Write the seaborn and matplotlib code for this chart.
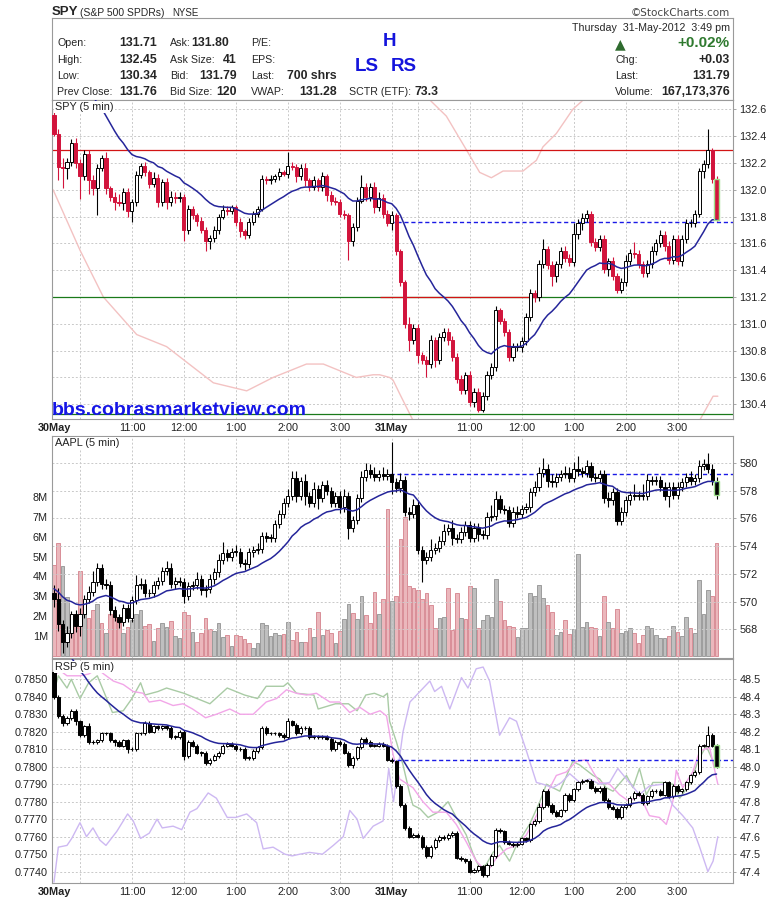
import numpy as np
import pandas as pd
import seaborn as sns
import matplotlib
matplotlib.use('Agg')
import matplotlib.pyplot as plt

# =============================================================================
# Data (5 min bars, 30May 9:30 -> 31May 3:45)
# =============================================================================
spy_open0 = 132.56
spy_ma_seed = 133.6   # level of the moving average coming in from 29May
spy_close = [
    132.42, 132.17, 132.16, 132.21, 132.35, 132.20,
    132.10, 132.27, 132.07, 132.01, 132.16, 132.24,
    132.01, 131.95, 131.91, 131.90, 131.98, 131.84,
    131.91, 132.11, 132.18, 132.13, 132.04, 132.09,
    131.91, 132.06, 131.91, 131.95, 131.94, 131.95,
    131.70, 131.86, 131.81, 131.77, 131.70, 131.62,
    131.64, 131.70, 131.80, 131.85, 131.84, 131.87,
    131.76, 131.69, 131.66, 131.76, 131.82, 131.86,
    132.08, 132.07, 132.08, 132.10, 132.13, 132.12,
    132.18, 132.17, 132.10, 132.16, 132.07, 132.02,
    132.07, 132.02, 132.10, 131.96, 131.92, 131.91,
    131.82, 131.81, 131.62, 131.72, 131.92, 132.02,
    131.95, 132.02, 131.87, 131.94, 131.82, 131.75,
    # 31May
    131.81, 131.54, 131.31, 131.00, 130.88, 130.97,
    130.77, 130.73, 130.70, 130.88, 130.73, 130.90,
    130.94, 130.88, 130.75, 130.59, 130.51, 130.62,
    130.42, 130.49, 130.36, 130.46, 130.62, 130.68,
    131.10, 131.02, 130.94, 130.75, 130.83, 130.83,
    130.87, 131.05, 131.23, 131.20, 131.45, 131.56,
    131.44, 131.36, 131.45, 131.54, 131.49, 131.46,
    131.67, 131.75, 131.79, 131.82, 131.61, 131.57,
    131.63, 131.41, 131.47, 131.36, 131.25, 131.31,
    131.47, 131.53, 131.52, 131.45, 131.38, 131.45,
    131.54, 131.60, 131.66, 131.58, 131.48, 131.63,
    131.47, 131.63, 131.75, 131.75, 131.82, 132.14,
    132.19, 132.30, 132.08, 131.78,
]
# wick lengths in cents above / below the body
spy_up = [
    4, 3, 7, 3, 3, 4,  3, 3, 3, 4, 3, 2,  4, 2, 3, 6, 3, 3,
    2, 3, 2, 3, 2, 4,  3, 2, 3, 4, 3, 3,  2, 3, 2, 2, 3, 2,
    2, 3, 2, 4, 3, 2,  2, 3, 2, 3, 2, 2,  3, 2, 3, 2, 3, 2,
    10, 3, 2, 3, 4, 2,  3, 2, 3, 2, 3, 3,  2, 3, 2, 3, 3, 9,
    3, 3, 4, 4, 3, 3,
    3, 2, 2, 2, 5, 3,  3, 2, 3, 4, 2, 3,  3, 3, 3, 3, 3, 2,
    3, 3, 3, 3, 3, 3,  3, 2, 2, 2, 3, 3,  3, 3, 3, 2, 3, 7,
    2, 3, 2, 3, 4, 3,  8, 3, 4, 3, 2, 3,  3, 3, 2, 3, 2, 3,
    4, 3, 8, 3, 2, 3,  4, 3, 4, 3, 4, 3,  3, 3, 3, 3, 3, 2,
    3, 15, 1, 2,
]
spy_dn = [
    2, 10, 15, 8, 3, 4,  17, 3, 10, 5, 20, 2,  4, 3, 6, 2, 5, 4,
    8, 3, 2, 3, 3, 2,  4, 3, 5, 3, 4, 3,  8, 3, 3, 4, 2, 8,
    6, 3, 3, 2, 3, 2,  3, 4, 3, 2, 2, 2,  2, 3, 3, 2, 3, 2,
    3, 2, 4, 3, 4, 3,  2, 3, 3, 4, 3, 2,  2, 3, 14, 4, 3, 2,
    3, 3, 4, 3, 3, 2,
    5, 3, 3, 3, 8, 3,  6, 3, 10, 3, 5, 3,  3, 4, 3, 3, 3, 3,
    3, 4, 2, 2, 3, 3,  3, 2, 3, 3, 3, 3,  4, 3, 3, 4, 3, 3,
    3, 8, 5, 3, 3, 3,  3, 4, 5, 3, 3, 3,  3, 3, 5, 3, 2, 2,
    3, 3, 3, 3, 3, 3,  3, 3, 3, 4, 3, 3,  3, 4, 3, 3, 3, 2,
    5, 3, 3, 1,
]
spy_band_hi_x = [84, 86.8, 90.6, 95.2, 98.3, 101, 103.7, 108.3, 111.4, 112.9, 116, 119.8, 122.2, 125]
spy_band_hi_y = [132.9, 132.67, 132.55, 132.3, 132.13, 132.09, 132.14, 132.14, 132.22, 132.32, 132.42, 132.6, 132.67, 132.9]
spy_band_lo_x = [-0.2, 6, 11.4, 19.1, 26, 36.8, 44.5, 50.6, 58.3, 62.2, 69.8, 73.7, 75.2, 77.5, 78.3,
                 79.8, 82.9, 90, 110, 135, 149.1, 152.2, 153.3]
spy_band_lo_y = [132.0, 131.55, 131.2, 130.92, 130.83, 130.56, 130.5, 130.6, 130.7, 130.7, 130.6, 130.62,
                 130.62, 130.6, 130.58, 130.48, 130.28, 129.95, 129.8, 129.95, 130.28, 130.46, 130.46]
spy_level_y = [132.30, 131.20, 130.33, 131.20]
spy_level_from = [-0.5, -0.5, -0.5, 75.3]
spy_level_to = [157, 157, 157, 112]
spy_level_col = ['#d21414', '#1a7a1a', '#1a7a1a', '#d21414']
spy_prev_close = 131.76
spy_ticks = [130.4, 130.6, 130.8, 131.0, 131.2, 131.4, 131.6, 131.8, 132.0, 132.2, 132.4, 132.6]

aapl_open0 = 570.6
aapl_ma_seed = 571.0
aapl_close = [
    570.2, 568.4, 567.1, 567.7, 569.1, 568.2,
    569.1, 570.2, 570.7, 571.4, 572.4, 571.3,
    571.2, 569.4, 568.9, 568.5, 569.5, 568.8,
    570.1, 571.2, 571.3, 570.6, 570.6, 571.2,
    571.5, 572.2, 572.4, 571.3, 571.5, 571.4,
    570.4, 571.1, 571.2, 571.6, 570.8, 570.9,
    571.6, 572.1, 573.0, 573.5, 573.2, 573.6,
    573.6, 572.8, 572.7, 573.6, 573.7, 573.8,
    574.7, 574.6, 574.6, 575.6, 576.3, 577.1,
    577.6, 578.9, 577.6, 578.7, 577.6, 577.1,
    578.1, 577.5, 578.4, 578.0, 577.1, 577.6,
    576.8, 577.6, 575.3, 575.9, 577.5, 579.0,
    579.5, 579.2, 579.0, 579.2, 579.1, 579.2,
    # 31May
    578.6, 578.2, 578.8, 576.5, 576.3, 577.0,
    573.7, 573.0, 573.2, 573.7, 573.9, 574.4,
    575.1, 575.3, 574.6, 574.5, 575.0, 575.5,
    574.6, 575.3, 574.9, 574.8, 576.1, 576.2,
    577.4, 576.7, 576.6, 575.7, 576.5, 576.3,
    576.7, 576.8, 577.9, 578.3, 579.3, 579.6,
    578.7, 578.6, 579.0, 579.2, 579.3, 578.9,
    579.6, 579.4, 579.3, 579.8, 579.0, 578.9,
    579.2, 577.5, 577.3, 577.9, 575.8, 576.5,
    577.3, 577.7, 577.6, 577.7, 577.6, 578.8,
    578.7, 578.8, 578.3, 577.6, 578.3, 577.7,
    578.3, 578.6, 579.0, 578.7, 578.9, 579.8,
    579.9, 579.6, 578.7, 577.7,
]
# wick lengths in dimes
aapl_up = [
    6, 8, 3, 5, 2, 3,  4, 3, 4, 8, 4, 3,  3, 3, 3, 2, 3, 3,
    3, 7, 4, 3, 3, 3,  3, 3, 5, 4, 3, 3,  3, 3, 3, 5, 3, 3,
    4, 3, 4, 8, 3, 3,  5, 3, 3, 3, 3, 4,  3, 3, 3, 3, 3, 4,
    5, 5, 5, 3, 5, 3,  5, 3, 3, 4, 3, 3,  4, 5, 3, 3, 3, 4,
    5, 4, 5, 3, 5, 4,
    23, 3, 5, 3, 3, 4,  3, 3, 4, 8, 3, 3,  5, 3, 6, 3, 4, 3,
    3, 4, 4, 3, 4, 8,  6, 3, 3, 3, 3, 4,  3, 3, 3, 4, 4, 8,
    3, 5, 3, 3, 5, 4,  5, 9, 3, 4, 3, 3,  3, 3, 4, 3, 3, 3,
    3, 3, 8, 3, 8, 4,  3, 3, 3, 3, 3, 3,  3, 3, 3, 4, 3, 4,
    4, 8, 3, 3,
]
aapl_dn = [
    6, 5, 8, 4, 3, 4,  7, 3, 3, 3, 3, 4,  3, 4, 3, 4, 3, 3,
    3, 3, 3, 3, 3, 3,  3, 3, 3, 3, 4, 3,  5, 3, 3, 3, 3, 5,
    3, 3, 3, 3, 3, 3,  3, 3, 4, 3, 4, 3,  3, 3, 3, 3, 3, 3,
    3, 3, 4, 3, 6, 3,  3, 8, 3, 3, 3, 3,  4, 3, 8, 3, 3, 3,
    3, 3, 3, 3, 3, 3,
    8, 3, 3, 3, 4, 3,  3, 16, 3, 3, 3, 3,  3, 3, 5, 3, 3, 3,
    3, 3, 5, 3, 3, 3,  3, 3, 3, 3, 3, 3,  3, 3, 3, 3, 3, 3,
    4, 3, 3, 3, 3, 3,  3, 3, 3, 3, 3, 3,  3, 4, 5, 3, 3, 3,
    3, 3, 3, 3, 3, 3,  3, 3, 3, 3, 8, 3,  3, 3, 3, 3, 3, 3,
    3, 3, 3, 3,
]
aapl_volume = [  # millions of shares
    4.6, 5.7, 4.55, 2.97, 2.13, 2.1,  4.27, 2.1, 1.9, 2.3, 2.6, 1.67,
    1.16, 2.1, 2.1, 1.67, 1.13, 1.47,  1.8, 2.1, 2.3, 1.5, 1.58, 0.77,
    1.42, 1.63, 1.47, 1.77, 1.0, 0.92,  2.2, 2.05, 1.18, 0.72, 1.13, 1.93,
    1.33, 1.23, 1.63, 0.97, 1.03, 0.52,  1.03, 1.0, 0.83, 0.67, 0.38, 0.67,
    1.63, 1.57, 1.0, 1.13, 1.05, 1.08,  1.72, 0.8, 1.22, 0.72, 0.72, 1.38,
    0.97, 2.2, 1.05, 1.3, 1.13, 0.67,  1.27, 1.88, 2.6, 2.17, 1.88, 3.0,
    2.08, 1.63, 3.22, 2.13, 2.88, 7.42,
    2.77, 3.0, 5.89, 7.02, 3.52, 3.43,  3.3, 2.89, 3.17, 2.55, 1.39, 1.89,
    1.94, 3.43, 1.30, 3.17, 1.89, 1.85,  3.5, 3.43, 1.39, 1.80, 2.05, 1.97,
    3.88, 2.77, 1.8, 1.5, 1.47, 0.97,  1.39, 1.39, 3.18, 3.0, 3.58, 2.9,
    2.58, 2.22, 1.05, 1.18, 1.8, 1.08,  1.33, 5.14, 1.47, 1.72, 1.47, 1.42,
    1.0, 3.0, 1.72, 1.39, 2.34, 1.13,  1.27, 1.42, 1.13, 0.67, 1.05, 1.5,
    1.42, 1.05, 0.88, 0.88, 1.0, 1.5,  1.22, 1.0, 1.97, 1.39, 1.13, 3.83,
    2.1, 3.33, 3.0, 5.67,
]
# r = down volume (pink), g = up volume (grey)
aapl_vol_dir = list(
    'rrggrr' 'rgrrgr' 'grrrgr' 'gggrrg' 'rggrgg' 'rrgrrr' 'rgggrg'
    'rrrrgg' 'gggggr' 'grrgrr' 'grgrrg' 'rggrgg' 'rrrgrr'
    'grrrrr' 'rrrrrg' 'grrrgr' 'rgrggg' 'grrrrg' 'gggggg' 'rrggrr'
    'ggggrr' 'grgrrg' 'ggrrrg' 'ggggrg' 'rggrgg' 'ggrr'
)
aapl_prev_close = 579.2
aapl_ticks = [568, 570, 572, 574, 576, 578, 580]
vol_ticks = [1, 2, 3, 4, 5, 6, 7, 8]

rsp_open0 = 48.54
rsp_ma_seed = 48.83
rsp_close = [
    48.40, 48.29, 48.25, 48.28, 48.32, 48.26,
    48.18, 48.23, 48.14, 48.14, 48.15, 48.19,
    48.19, 48.15, 48.14, 48.12, 48.15, 48.10,
    48.10, 48.19, 48.19, 48.25, 48.20, 48.23,
    48.22, 48.23, 48.22, 48.17, 48.17, 48.20,
    48.06, 48.14, 48.12, 48.08, 48.08, 48.02,
    48.04, 48.06, 48.08, 48.12, 48.13, 48.12,
    48.10, 48.10, 48.05, 48.05, 48.09, 48.11,
    48.22, 48.19, 48.19, 48.19, 48.18, 48.17,
    48.26, 48.24, 48.19, 48.22, 48.22, 48.17,
    48.17, 48.17, 48.17, 48.16, 48.10, 48.14,
    48.13, 48.08, 48.01, 48.05, 48.11, 48.16,
    48.14, 48.12, 48.12, 48.13, 48.12, 48.04,
    # 31May
    48.03, 47.89, 47.78, 47.65, 47.60, 47.61,
    47.60, 47.54, 47.49, 47.54, 47.58, 47.60,
    47.59, 47.61, 47.62, 47.48, 47.47, 47.46,
    47.40, 47.41, 47.43, 47.38, 47.44, 47.49,
    47.64, 47.63, 47.57, 47.56, 47.55, 47.56,
    47.59, 47.58, 47.67, 47.69, 47.77, 47.86,
    47.78, 47.74, 47.72, 47.75, 47.84, 47.81,
    47.87, 47.91, 47.92, 47.92, 47.88, 47.86,
    47.88, 47.81, 47.77, 47.76, 47.71, 47.77,
    47.78, 47.82, 47.85, 47.84, 47.79, 47.83,
    47.86, 47.86, 47.84, 47.91, 47.83, 47.89,
    47.86, 47.87, 47.91, 47.95, 47.97, 48.12,
    48.12, 48.18, 48.12, 48.00,
]
# wick lengths in cents
rsp_up = [
    2, 1, 1, 1, 1, 1,  1, 1, 2, 1, 1, 1,  1, 1, 1, 1, 1, 1,
    1, 1, 1, 1, 1, 1,  1, 1, 1, 1, 1, 1,  1, 1, 1, 1, 1, 1,
    1, 1, 1, 1, 1, 1,  1, 1, 1, 1, 1, 1,  1, 1, 1, 1, 1, 1,
    2, 1, 1, 1, 1, 1,  1, 1, 1, 1, 1, 1,  1, 1, 1, 1, 1, 1,
    1, 1, 1, 1, 1, 1,
    1, 1, 1, 1, 1, 1,  1, 1, 1, 1, 1, 1,  1, 1, 1, 1, 1, 1,
    1, 1, 1, 1, 1, 1,  1, 1, 1, 1, 1, 1,  1, 1, 1, 1, 2, 1,
    1, 1, 1, 1, 1, 1,  1, 1, 1, 1, 1, 1,  1, 1, 1, 1, 1, 1,
    1, 1, 1, 1, 1, 1,  1, 1, 1, 1, 1, 1,  1, 1, 1, 1, 1, 1,
    1, 5, 1, 1,
]
rsp_dn = [
    1, 1, 2, 1, 1, 2,  1, 1, 1, 1, 1, 1,  1, 1, 2, 1, 1, 2,
    1, 1, 1, 1, 1, 1,  1, 1, 1, 1, 1, 1,  2, 1, 1, 1, 2, 1,
    1, 1, 1, 1, 1, 1,  1, 1, 1, 1, 1, 1,  1, 1, 1, 1, 1, 1,
    1, 1, 1, 1, 1, 1,  1, 1, 1, 1, 1, 1,  1, 1, 1, 2, 1, 1,
    1, 1, 1, 1, 1, 1,
    1, 1, 1, 1, 1, 1,  1, 1, 1, 1, 1, 1,  1, 1, 1, 1, 1, 1,
    1, 1, 1, 1, 1, 1,  1, 1, 1, 1, 1, 1,  1, 1, 1, 1, 1, 1,
    1, 1, 1, 1, 1, 1,  1, 1, 1, 1, 1, 1,  1, 1, 1, 1, 1, 1,
    1, 1, 1, 1, 1, 1,  1, 1, 1, 1, 1, 1,  1, 1, 1, 1, 1, 1,
    1, 1, 1, 1,
]
rsp_green_x = [0, 1, 3, 4, 6, 8, 10, 13.5, 16, 18, 20, 21, 24, 26, 30, 34, 36, 40, 44, 47, 49, 53, 54,
               56, 60, 61, 65, 68, 70, 72, 74, 76, 77, 77.5, 79.1, 80.6, 82.2, 82.9, 84.5, 86.4, 88.7,
               91, 92.9, 95.2, 96.8, 98.3, 99.8, 101.4, 102.9, 105.2, 106.8, 109.8, 112.2, 113.7,
               115.2, 116.8, 119.8, 121.4, 124.5, 126, 127.5, 129.1, 132.2, 133.7, 135.2, 136.8,
               138.3, 140.6, 142.9, 144.5, 146.8, 148.7, 150.6, 152.2, 153.3]
rsp_green_y = [48.43, 48.52, 48.45, 48.50, 48.39, 48.48, 48.52, 48.31, 48.32, 48.39, 48.48, 48.41,
               48.43, 48.45, 48.42, 48.38, 48.36, 48.45, 48.41, 48.39, 48.46, 48.46, 48.48, 48.42,
               48.41, 48.33, 48.36, 48.36, 48.32, 48.41, 48.42, 48.40, 48.42, 48.26, 48.14, 48.01,
               47.84, 47.78, 47.76, 47.71, 47.74, 47.80, 47.71, 47.61, 47.50, 47.42, 47.44, 47.51,
               47.55, 47.46, 47.55, 47.67, 47.80, 47.90, 47.88, 47.86, 48.03, 48.01, 47.95, 47.93,
               47.88, 47.86, 47.95, 47.88, 47.99, 47.84, 47.91, 47.91, 47.90, 47.82, 47.90, 48.03,
               48.12, 48.03, 48.02]
rsp_pink_x = [0, 1.4, 3, 6, 8, 10, 11.5, 13.7, 16, 18.3, 20.6, 22, 24.5, 27.5, 29.8, 32, 35, 37.5,
              40.6, 43, 46, 49, 51.4, 53.7, 56, 58.3, 60.6, 63.7, 66, 68.3, 70.6, 73, 75.3, 76.8,
              78.3, 79.8, 82.9, 85.2, 87.5, 90.6, 92.9, 95.2, 97.5, 99.1, 100.6, 102.2, 104.5,
              106.8, 109.1, 111.4, 113.7, 116, 118.3, 120.6, 122.9, 124.5, 126, 128.3, 130.6,
              132.9, 135.2, 137.5, 139.8, 141.4, 142.9, 143.7, 145.2, 147.5, 149.1, 151.4, 153.3]
rsp_pink_y = [48.52, 48.55, 48.52, 48.52, 48.53, 48.56, 48.53, 48.49, 48.47, 48.43, 48.42, 48.37,
              48.38, 48.35, 48.36, 48.33, 48.28, 48.30, 48.33, 48.30, 48.30, 48.37, 48.39, 48.44,
              48.42, 48.41, 48.42, 48.37, 48.37, 48.31, 48.34, 48.30, 48.32, 48.29, 48.07, 47.93,
              47.88, 47.80, 47.74, 47.74, 47.67, 47.57, 47.46, 47.42, 47.42, 47.48, 47.53, 47.55,
              47.61, 47.72, 47.84, 47.95, 47.97, 48.03, 48.04, 47.97, 47.91, 47.90, 47.84, 47.80,
              47.84, 47.72, 47.71, 47.67, 47.80, 47.98, 47.88, 47.97, 48.09, 48.11, 47.90]
rsp_lav_x = [0, 1, 3, 4.1, 6, 7.5, 9, 10.6, 12, 14.5, 17, 18.3, 20, 22, 23.8, 25, 27.5, 29.5, 31.4,
             33, 35.6, 37.5, 40, 42, 44.5, 46.8, 48.3, 50.6, 53.3, 55, 56.8, 59, 62, 64.5, 66.8,
             68.3, 70, 71.4, 73.7, 76, 77.3, 78.4, 80.6, 82.2, 84.5, 86.8, 87.9, 89.5, 91.4, 94.1,
             95.6, 97.5, 99.1, 100.6, 102.9, 105.2, 106.8, 109.1, 111.4, 112.9, 115.2, 117.2,
             119.1, 121.4, 123.7, 126, 128.3, 130.2, 132.2, 135.2, 137.5, 140.6, 142.9, 145.2,
             147.5, 149.1, 151, 152.2, 153.3]
rsp_lav_y = [47.34, 47.54, 47.55, 47.59, 47.68, 47.60, 47.65, 47.58, 47.55, 47.63, 47.73, 47.69,
             47.59, 47.62, 47.70, 47.65, 47.66, 47.64, 47.74, 47.76, 47.85, 47.82, 47.71, 47.71,
             47.73, 47.68, 47.53, 47.54, 47.50, 47.49, 47.50, 47.51, 47.50, 47.55, 47.60, 47.75,
             47.70, 47.59, 47.66, 47.69, 47.99, 47.80, 48.20, 48.37, 48.43, 48.49, 48.43, 48.46,
             48.33, 48.51, 48.45, 48.56, 48.57, 48.49, 48.18, 48.28, 48.26, 48.09, 47.91, 47.90,
             47.88, 47.91, 47.96, 47.91, 47.93, 47.90, 47.91, 47.99, 47.93, 47.84, 47.89, 47.90,
             47.78, 47.72, 47.65, 47.54, 47.40, 47.46, 47.60]
rsp_prev_close = 48.04
rsp_ticks = [47.4, 47.5, 47.6, 47.7, 47.8, 47.9, 48.0, 48.1, 48.2, 48.3, 48.4, 48.5]
ratio_ticks = [0.7740, 0.7750, 0.7760, 0.7770, 0.7780, 0.7790, 0.7800, 0.7810, 0.7820, 0.7830,
               0.7840, 0.7850]

time_pos = [0, 18, 30, 42, 54, 66, 78, 96, 108, 120, 132, 144]
time_lab = ['30May', '11:00', '12:00', '1:00', '2:00', '3:00', '31May',
            '11:00', '12:00', '1:00', '2:00', '3:00']
grid_pos = [6, 18, 30, 42, 54, 66, 78, 84, 96, 108, 120, 132, 144]

# =============================================================================
# Helpers
# =============================================================================
W, H = 780, 901
XMIN, XMAX = -0.46, 156.8


def fx(x):
    return x / W


def fy(y):
    return 1 - y / H


def make_ohlc(open0, closes, up, dn, unit, seed):
    c = np.array(closes, dtype=float)
    o = np.r_[open0, c[:-1]]
    df = pd.DataFrame({'bar': np.arange(len(c)), 'o': o, 'c': c})
    df['h'] = np.maximum(o, c) + np.array(up) * unit
    df['l'] = np.minimum(o, c) - np.array(dn) * unit
    # 20 period exponential average, started from the level carried over from the prior day
    ema = pd.Series(np.r_[seed, c]).ewm(span=20, adjust=False).mean()
    df['ma'] = ema.iloc[1:].values
    return df


def draw_candles(ax, df, down_col, tiny):
    up = df.c >= df.o
    ax.vlines(df.bar[up], df.l[up], df.h[up], color='black', lw=0.8, zorder=3)
    ax.vlines(df.bar[~up], df.l[~up], df.h[~up], color=down_col, lw=0.8, zorder=3)
    body = (df.c - df.o).abs().clip(lower=tiny)
    ax.bar(df.bar[up], body[up], bottom=df.o[up], width=0.72, color='white',
           edgecolor='black', lw=0.7, zorder=4)
    ax.bar(df.bar[~up], body[~up], bottom=df.c[~up], width=0.72, color=down_col,
           edgecolor=down_col, lw=0.7, zorder=4)
    last = df.iloc[-1]
    ax.bar(last.bar, abs(last.c - last.o) + 2 * tiny, bottom=min(last.o, last.c) - tiny,
           width=1.3, fill=False, edgecolor='#9ee08c', lw=1.0, zorder=6)


def style_panel(ax):
    ax.set_xlim(XMIN, XMAX)
    for s in ax.spines.values():
        s.set_color('#9a9a9a')
        s.set_linewidth(0.8)
    for g in grid_pos:
        ax.axvline(g, color='#c9c9c9', lw=0.7, ls=(0, (2, 2)), zorder=0)
    ax.grid(axis='y', color='#c9c9c9', lw=0.7, ls=(0, (2, 2)))
    ax.set_axisbelow(True)
    ax.yaxis.tick_right()
    ax.tick_params(axis='y', length=2.5, width=0.6, color='#9a9a9a', pad=2,
                   labelsize=7.8, labelcolor='#222222')
    ax.set_xlabel('')
    ax.set_ylabel('')


def time_axis(ax, show):
    ax.set_xticks(time_pos)
    if show:
        ax.set_xticklabels(time_lab, fontsize=7.8, color='#222222')
        for t in ax.get_xticklabels():
            if 'May' in t.get_text():
                t.set_fontweight('bold')
    else:
        ax.set_xticklabels([])
    ax.tick_params(axis='x', length=0, pad=3)


spy = make_ohlc(spy_open0, spy_close, spy_up, spy_dn, 0.01, spy_ma_seed)
aapl = make_ohlc(aapl_open0, aapl_close, aapl_up, aapl_dn, 0.1, aapl_ma_seed)
rsp = make_ohlc(rsp_open0, rsp_close, rsp_up, rsp_dn, 0.01, rsp_ma_seed)
aapl['vol'] = aapl_volume
aapl['vdir'] = aapl_vol_dir

# =============================================================================
# Figure
# =============================================================================
sns.set_theme(style='white')
plt.rcParams['font.family'] = ['Liberation Sans', 'DejaVu Sans']

fig = plt.figure(figsize=(W / 100, H / 100), dpi=100)
fig.patch.set_facecolor('white')

ma_col = '#25259a'
dash_col = '#1a1ae6'

# ---------------- header ----------------
hdr = fig.add_axes([fx(52), fy(100), 681 / W, (100 - 18.3) / H])
hdr.set_xticks([])
hdr.set_yticks([])
for s in hdr.spines.values():
    s.set_color('#9a9a9a')
    s.set_linewidth(0.8)

fig.text(fx(52), fy(12), 'SPY', fontsize=9.5, fontweight='bold', va='center')
fig.text(fx(80), fy(12.5), '(S&P 500 SPDRs)', fontsize=7.5, va='center')
fig.text(fx(172), fy(12.5), 'NYSE', fontsize=7, va='center')
fig.text(fx(730), fy(12.5), '\u00a9StockCharts.com', fontsize=7.5, va='center', ha='right',
         color='#444444', family=['DejaVu Sans'])

rows = [43.3, 60, 76, 91.7]
lab1 = ['Open:', 'High:', 'Low:', 'Prev Close:']
val1 = ['131.71', '132.45', '130.34', '131.76']
lab2 = ['Ask:', 'Ask Size:', 'Bid:', 'Bid Size:']
val2 = ['131.80', '41', '131.79', '120']
val2_x = [229, 236.5, 236.5, 236.5]
lab3 = ['P/E:', 'EPS:', 'Last:', 'VWAP:']
val3 = ['', '', '700 shrs', '131.28']
for i, y in enumerate(rows):
    fig.text(fx(57), fy(y), lab1[i], fontsize=7.7, va='center')
    fig.text(fx(157.5), fy(y), val1[i], fontsize=8.8, fontweight='bold', va='center', ha='right')
    fig.text(fx(170), fy(y), lab2[i], fontsize=7.7, va='center')
    fig.text(fx(val2_x[i]), fy(y), val2[i], fontsize=8.8, fontweight='bold', va='center', ha='right')
    fig.text(fx(251), fy(y), lab3[i], fontsize=7.7, va='center')
    fig.text(fx(336.5), fy(y), val3[i], fontsize=8.8, fontweight='bold', va='center', ha='right')
fig.text(fx(349), fy(91.7), 'SCTR (ETF):', fontsize=7.7, va='center')
fig.text(fx(438.5), fy(91.7), '73.3', fontsize=8.8, fontweight='bold', va='center', ha='right')

fig.text(fx(389), fy(41.7), 'H', fontsize=13.5, fontweight='bold', color='#1414dc', ha='center', va='center')
fig.text(fx(367), fy(66.7), 'LS', fontsize=13.5, fontweight='bold', color='#1414dc', ha='center', va='center')
fig.text(fx(404), fy(66.7), 'RS', fontsize=13.5, fontweight='bold', color='#1414dc', ha='center', va='center')

fig.text(fx(730), fy(28.3), 'Thursday  31-May-2012  3:49 pm', fontsize=7.7, va='center', ha='right')
fig.text(fx(620), fy(44), '\u25b2', fontsize=10, color='#2f6b2f', va='center', ha='center',
         family=['DejaVu Sans'])
fig.text(fx(730), fy(43.3), '+0.02%', fontsize=11, fontweight='bold', color='#2f7a2f', va='center', ha='right')
lab4 = ['Chg:', 'Last:', 'Volume:']
val4 = ['+0.03', '131.79', '167,173,376']
for i, y in enumerate(rows[1:]):
    fig.text(fx(615), fy(y), lab4[i], fontsize=7.7, va='center')
    fig.text(fx(730), fy(y), val4[i], fontsize=8.8, fontweight='bold', va='center', ha='right')

# ---------------- SPY panel ----------------
ax1 = fig.add_axes([fx(52), fy(419), 681 / W, 319 / H])
sns.lineplot(x=spy_band_hi_x, y=spy_band_hi_y, ax=ax1, color='#f3c2c2', lw=1.0, sort=False, zorder=2)
sns.lineplot(x=spy_band_lo_x, y=spy_band_lo_y, ax=ax1, color='#f3c2c2', lw=1.0, sort=False, zorder=2)
for y, x0, x1, col in zip(spy_level_y, spy_level_from, spy_level_to, spy_level_col):
    ax1.hlines(y, x0, x1, color=col, lw=0.9, zorder=2)
ax1.hlines(spy_prev_close, 77.5, XMAX, color=dash_col, lw=1.0, ls=(0, (3, 2)), zorder=2)
draw_candles(ax1, spy, '#d2143c', 0.004)
sns.lineplot(data=spy, x='bar', y='ma', ax=ax1, color=ma_col, lw=1.1, zorder=5)
style_panel(ax1)
ax1.set_ylim(130.29, 132.67)
ax1.set_yticks(spy_ticks)
ax1.set_yticklabels([f'{t:.1f}' for t in spy_ticks])
time_axis(ax1, True)

# ---------------- AAPL panel ----------------
ax2 = fig.add_axes([fx(52), fy(658), 681 / W, (658 - 435.7) / H])
axv = ax2.twinx()
ax2.set_zorder(axv.get_zorder() + 1)
ax2.patch.set_visible(False)
axv.patch.set_facecolor('white')
down = aapl.vdir == 'r'
axv.bar(aapl.bar[down], aapl.vol[down], width=0.85, color='#ebb7bc', edgecolor='#d98e97', lw=0.7)
axv.bar(aapl.bar[~down], aapl.vol[~down], width=0.85, color='#bfbfbf', edgecolor='#9c9c9c', lw=0.7)
axv.set_ylim(-0.11, 11.1)
axv.yaxis.tick_left()
axv.set_yticks(vol_ticks)
axv.set_yticklabels([f'{v}M' for v in vol_ticks])
axv.tick_params(axis='y', length=0, pad=3, labelsize=7.8, labelcolor='#222222')
for s in axv.spines.values():
    s.set_visible(False)
ax2.hlines(aapl_prev_close, 77.5, XMAX, color=dash_col, lw=1.0, ls=(0, (3, 2)), zorder=2)
draw_candles(ax2, aapl, 'black', 0.04)
sns.lineplot(data=aapl, x='bar', y='ma', ax=ax2, color=ma_col, lw=1.1, zorder=5)
style_panel(ax2)
ax2.set_ylim(565.92, 581.98)
ax2.set_yticks(aapl_ticks)
ax2.set_yticklabels([str(t) for t in aapl_ticks])
time_axis(ax2, False)
axv.set_xlim(XMIN, XMAX)

# ---------------- RSP panel ----------------
ax3 = fig.add_axes([fx(52), fy(883), 681 / W, 224 / H])
sns.lineplot(x=rsp_green_x, y=rsp_green_y, ax=ax3, color='#a9cba5', lw=1.0, sort=False, zorder=2)
sns.lineplot(x=rsp_pink_x, y=rsp_pink_y, ax=ax3, color='#f2a6e8', lw=1.0, sort=False, zorder=2)
sns.lineplot(x=rsp_lav_x, y=rsp_lav_y, ax=ax3, color='#cdb8f2', lw=1.0, sort=False, zorder=2)
ax3.hlines(rsp_prev_close, 77.5, XMAX, color=dash_col, lw=1.0, ls=(0, (3, 2)), zorder=2)
draw_candles(ax3, rsp, 'black', 0.003)
sns.lineplot(data=rsp, x='bar', y='ma', ax=ax3, color=ma_col, lw=1.1, zorder=5)
style_panel(ax3)
ax3.set_ylim(47.335, 48.616)
ax3.set_yticks(rsp_ticks)
ax3.set_yticklabels([f'{t:.1f}' for t in rsp_ticks])
time_axis(ax3, True)
sec = ax3.secondary_yaxis('left', functions=(lambda p: 0.7850 + (p - 48.5) * 0.01,
                                             lambda r: 48.5 + (r - 0.7850) * 100))
sec.set_yticks(ratio_ticks)
sec.set_yticklabels([f'{t:.4f}' for t in ratio_ticks])
sec.tick_params(axis='y', length=0, pad=3, labelsize=7.8, labelcolor='#222222')
sec.spines['left'].set_visible(False)

# ---------------- labels on top ----------------
for y, name in [(107, 'SPY (5 min)'), (443, 'AAPL (5 min)'), (667, 'RSP (5 min)')]:
    fig.text(fx(55), fy(y), name, fontsize=7.8, va='center', color='#222222',
             bbox=dict(facecolor='white', edgecolor='none', pad=0.8))
fig.text(fx(52), fy(410.5), 'bbs.cobrasmarketview.com', fontsize=14, fontweight='bold',
         color='#1515e6', va='center')

fig.savefig('out.png', dpi=100)
